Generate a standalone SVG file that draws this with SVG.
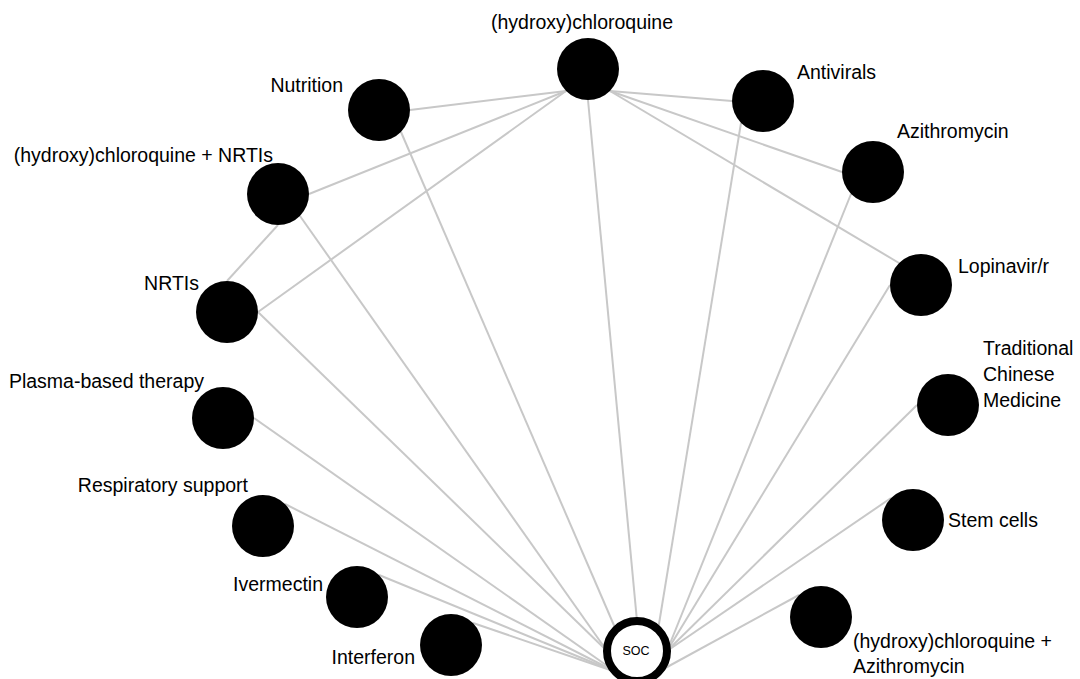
<svg xmlns="http://www.w3.org/2000/svg" width="1080" height="679" viewBox="0 0 1080 679">
<style>
.e{stroke:#c8c8c8;stroke-width:2;fill:none}
.n{fill:#000}
.soc{fill:#fff;stroke:#000;stroke-width:8}
.l{font-family:"Liberation Sans",Arial,sans-serif;font-size:19.5px;fill:#000}
.s{font-family:"Liberation Sans",Arial,sans-serif;font-size:12.5px;fill:#000}
</style>
<rect width="1080" height="679" fill="#fff"/>
<g id="edges">
<line class="e" x1="566" y1="91" x2="410" y2="110"/>
<line class="e" x1="566" y1="91" x2="309" y2="194"/>
<line class="e" x1="566" y1="91" x2="258" y2="312"/>
<line class="e" x1="610" y1="91" x2="732" y2="101"/>
<line class="e" x1="610" y1="91" x2="842" y2="172"/>
<line class="e" x1="610" y1="91" x2="899" y2="263"/>
<line class="e" x1="588" y1="100" x2="637" y2="621"/>
<line class="e" x1="278" y1="225" x2="227" y2="281"/>
<line class="e" x1="401" y1="132" x2="616" y2="630"/>
<line class="e" x1="300" y1="216" x2="607" y2="651"/>
<line class="e" x1="258" y1="312" x2="607" y2="651"/>
<line class="e" x1="254" y1="418" x2="616" y2="672"/>
<line class="e" x1="285" y1="504" x2="616" y2="672"/>
<line class="e" x1="379" y1="575" x2="616" y2="672"/>
<line class="e" x1="473" y1="623" x2="616" y2="672"/>
<line class="e" x1="741" y1="123" x2="658" y2="630"/>
<line class="e" x1="851" y1="194" x2="667" y2="651"/>
<line class="e" x1="890" y1="285" x2="667" y2="651"/>
<line class="e" x1="917" y1="405" x2="667" y2="651"/>
<line class="e" x1="891" y1="498" x2="667" y2="651"/>
<line class="e" x1="799" y1="595" x2="658" y2="672"/>
</g>
<g id="hcq"><circle class="n" cx="588" cy="69" r="31"/><text class="l" x="582" y="29" text-anchor="middle">(hydroxy)chloroquine</text></g>
<g id="nutrition"><circle class="n" cx="379" cy="110" r="31"/><text class="l" x="343" y="92" text-anchor="end">Nutrition</text></g>
<g id="hcq-nrtis"><circle class="n" cx="278" cy="194" r="31"/><text class="l" x="273" y="162" text-anchor="end">(hydroxy)chloroquine + NRTIs</text></g>
<g id="nrtis"><circle class="n" cx="227" cy="312" r="31"/><text class="l" x="199" y="290" text-anchor="end">NRTIs</text></g>
<g id="plasma"><circle class="n" cx="223" cy="418" r="31"/><text class="l" x="204" y="388" text-anchor="end">Plasma-based therapy</text></g>
<g id="respiratory"><circle class="n" cx="263" cy="526" r="31"/><text class="l" x="248" y="492" text-anchor="end">Respiratory support</text></g>
<g id="ivermectin"><circle class="n" cx="357" cy="597" r="31"/><text class="l" x="323" y="591" text-anchor="end">Ivermectin</text></g>
<g id="interferon"><circle class="n" cx="451" cy="645" r="31"/><text class="l" x="415" y="664" text-anchor="end">Interferon</text></g>
<g id="antivirals"><circle class="n" cx="763" cy="101" r="31"/><text class="l" x="797" y="79">Antivirals</text></g>
<g id="azithromycin"><circle class="n" cx="873" cy="172" r="31"/><text class="l" x="897" y="138">Azithromycin</text></g>
<g id="lopinavir"><circle class="n" cx="921" cy="285" r="31"/><text class="l" x="958" y="273">Lopinavir/r</text></g>
<g id="tcm"><circle class="n" cx="948" cy="405" r="31"/><text class="l" x="983" y="355">Traditional</text><text class="l" x="983" y="381">Chinese</text><text class="l" x="983" y="407">Medicine</text></g>
<g id="stem"><circle class="n" cx="913" cy="520" r="31"/><text class="l" x="948" y="527">Stem cells</text></g>
<g id="hcq-azi"><circle class="n" cx="821" cy="617" r="31"/><text class="l" x="853" y="648">(hydroxy)chloroquine +</text><text class="l" x="853" y="673">Azithromycin</text></g>
<g id="soc"><circle class="soc" cx="637" cy="651" r="30"/><text class="s" x="636" y="655" text-anchor="middle">SOC</text></g>
</svg>
